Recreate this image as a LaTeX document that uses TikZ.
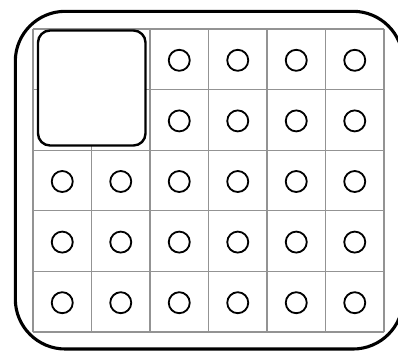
\documentclass[tikz,border=0pt]{standalone}
\begin{document}
\begin{tikzpicture}[x=0.025cm, y=-0.025cm,
		gridline/.style={draw=gray!85, line width=0.9pt},
		hole/.style={circle, draw, line width=1.3pt, minimum size=0.525cm, inner sep=0pt}]
	\useasboundingbox (0,0) rectangle (398,351);
	% outer frame
	\draw[line width=2.2pt, rounded corners=1.25cm] (15.3,11.3) rectangle (403,349);
	% grid
	\foreach \i in {0,...,6} \draw[gridline] ({33+58.5*\i},29) -- ({33+58.5*\i},332);
	\foreach \j in {0,...,5} \draw[gridline] (33,{29+60.6*\j}) -- (384,{29+60.6*\j});
	% holes
	\foreach \r in {1,2}
		\foreach \c in {3,...,6}
			\node[hole] (h-\r-\c) at ({33+58.5*(\c-0.5)},{30+60.6*(\r-0.5)}) {};
	\foreach \r in {3,4,5}
		\foreach \c in {1,...,6}
			\node[hole] (h-\r-\c) at ({33+58.5*(\c-0.5)},{30+60.6*(\r-0.5)}) {};
	% big pad
	\draw[fill=white, line width=1.7pt, rounded corners=0.3cm] (38,30.5) rectangle (145.5,145.5);
\end{tikzpicture}
\end{document}
